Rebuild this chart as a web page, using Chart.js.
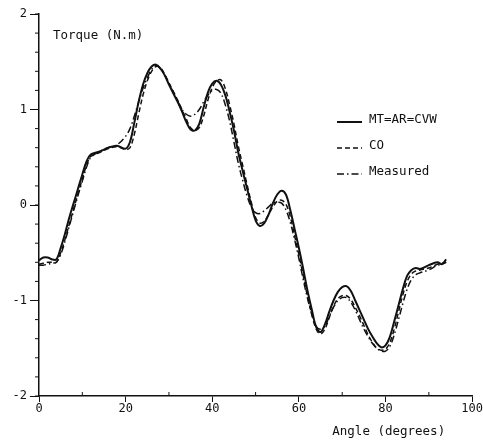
<!DOCTYPE html>
<html>
<head>
<meta charset="utf-8">
<script src="https://cdn.jsdelivr.net/npm/chart.js@4"></script>
<style>
    html, body { margin: 0; padding: 0; background: #fff; }
    canvas { display: block; }
</style>
</head>
<body>
<canvas id="torqueChart" width="483" height="441"></canvas>
<script>
const kutovi = [0, 1, 2, 3, 4, 5, 6, 7, 8, 9, 10, 11, 12, 14, 16, 18,
    20, 21, 22, 23, 24, 25, 26, 27, 28, 29, 30, 31, 32, 33, 34, 35, 36, 37, 38, 39,
    40, 41, 42, 43, 44, 45, 46, 47, 48, 49, 50, 51, 52, 53, 54, 55, 56, 57, 58, 59,
    60, 61, 62, 63, 64, 65, 66, 67, 68, 69, 70, 71, 72, 73, 74, 75, 76, 77, 78, 79,
    80, 81, 82, 83, 84, 85, 86, 87, 88, 90, 92, 93, 94];

const mtArCvw = [-0.58, -0.55, -0.55, -0.57, -0.57, -0.45, -0.30, -0.13, 0.02, 0.17, 0.32, 0.46, 0.53, 0.56, 0.60, 0.62,
    0.59, 0.66, 0.86, 1.08, 1.26, 1.38, 1.45, 1.47, 1.43, 1.36, 1.26, 1.17, 1.08, 0.98, 0.87, 0.79, 0.78, 0.85, 1.02, 1.18,
    1.27, 1.30, 1.26, 1.15, 0.98, 0.78, 0.55, 0.36, 0.18, 0.00, -0.16, -0.22, -0.19, -0.10, 0.02, 0.11, 0.15, 0.11, -0.05, -0.25,
    -0.45, -0.67, -0.90, -1.10, -1.28, -1.33, -1.25, -1.12, -1.00, -0.91, -0.86, -0.85, -0.90, -1.00, -1.10, -1.20, -1.30, -1.38, -1.45, -1.49,
    -1.47, -1.38, -1.22, -1.05, -0.88, -0.74, -0.68, -0.66, -0.67, -0.63, -0.60, -0.62, -0.57];

const co = [-0.62, -0.61, -0.60, -0.60, -0.60, -0.50, -0.36, -0.20, -0.04, 0.12, 0.27, 0.42, 0.51, 0.55, 0.59, 0.61,
    0.58, 0.60, 0.74, 0.95, 1.15, 1.30, 1.40, 1.45, 1.44, 1.37, 1.28, 1.19, 1.10, 1.00, 0.90, 0.81, 0.78, 0.81, 0.93, 1.10,
    1.23, 1.30, 1.31, 1.22, 1.05, 0.85, 0.62, 0.42, 0.22, 0.03, -0.13, -0.19, -0.17, -0.10, -0.02, 0.04, 0.05, 0.01, -0.12, -0.32,
    -0.52, -0.74, -0.96, -1.15, -1.30, -1.35, -1.30, -1.18, -1.06, -0.98, -0.95, -0.95, -0.99, -1.07, -1.16, -1.26, -1.36, -1.44, -1.50, -1.52,
    -1.51, -1.44, -1.30, -1.12, -0.94, -0.80, -0.72, -0.69, -0.68, -0.66, -0.62, -0.61, -0.60];

const mjereno = [-0.63, -0.63, -0.62, -0.61, -0.60, -0.52, -0.38, -0.22, -0.06, 0.10, 0.25, 0.40, 0.50, 0.56, 0.60, 0.63,
    0.72, 0.80, 0.93, 1.08, 1.22, 1.33, 1.42, 1.46, 1.43, 1.36, 1.27, 1.18, 1.09, 1.00, 0.95, 0.93, 0.95, 1.00, 1.08, 1.15,
    1.20, 1.21, 1.17, 1.05, 0.88, 0.66, 0.44, 0.26, 0.10, -0.02, -0.08, -0.09, -0.06, -0.02, 0.02, 0.03, 0.02, -0.05, -0.18, -0.36,
    -0.56, -0.78, -0.98, -1.15, -1.27, -1.30, -1.27, -1.17, -1.07, -1.00, -0.97, -0.97, -1.02, -1.10, -1.20, -1.30, -1.38, -1.45, -1.50, -1.53,
    -1.53, -1.48, -1.36, -1.20, -1.03, -0.88, -0.78, -0.73, -0.71, -0.68, -0.63, -0.62, -0.60];

const nazivi = ['MT=AR=CVW', 'CO', 'Measured'];
const xTickovi = [0, 20, 40, 60, 80, 100];
const yTickovi = [-2, -1, 0, 1, 2];

const font = '"DejaVu Sans Mono", "Liberation Mono", monospace';
const boja = '#111';

function tocke(vrijednosti) {
    return kutovi.map((k, i) => ({ x: k, y: vrijednosti[i] }));
}

// sitni tickovi, oznake osi i legenda
const crtez = {
    id: 'crtez',
    afterDraw(chart) {
        const ctx = chart.ctx;
        const xs = chart.scales.x;
        const ys = chart.scales.y;
        const a = chart.chartArea;
        ctx.save();
        ctx.strokeStyle = boja;
        ctx.lineWidth = 1;
        for (let v = -2; v <= 2.001; v += 0.2) {
            const py = ys.getPixelForValue(v);
            ctx.beginPath();
            ctx.moveTo(a.left - 4, py);
            ctx.lineTo(a.left, py);
            ctx.stroke();
        }
        for (let v = 10; v < 100; v += 20) {
            const px = xs.getPixelForValue(v);
            ctx.beginPath();
            ctx.moveTo(px, a.bottom - 4);
            ctx.lineTo(px, a.bottom);
            ctx.stroke();
        }

        ctx.fillStyle = boja;
        ctx.font = '12.5px ' + font;
        ctx.textBaseline = 'middle';
        ctx.textAlign = 'left';
        ctx.fillText('Torque (N.m)', a.left + 14, 36);
        ctx.textAlign = 'right';
        ctx.fillText('Angle (degrees)', a.right - 27, 432);

        ctx.textAlign = 'left';
        chart.data.datasets.forEach((ds, i) => {
            const y = 122 + i * 26;
            ctx.beginPath();
            ctx.setLineDash(ds.borderDash || []);
            ctx.lineWidth = ds.borderWidth;
            ctx.moveTo(337, y);
            ctx.lineTo(362, y);
            ctx.stroke();
            ctx.setLineDash([]);
            ctx.fillText(ds.label, 369, y - 2);
        });
        ctx.restore();
    }
};

const chart = new Chart(document.getElementById('torqueChart').getContext('2d'), {
    type: 'line',
    data: {
        datasets: [
            { label: nazivi[0], data: tocke(mtArCvw), borderColor: boja, borderWidth: 2 },
            { label: nazivi[1], data: tocke(co), borderColor: boja, borderWidth: 1.5, borderDash: [5, 3] },
            { label: nazivi[2], data: tocke(mjereno), borderColor: boja, borderWidth: 1.5, borderDash: [7, 3, 1.5, 3] }
        ]
    },
    options: {
        responsive: false,
        animation: false,
        layout: { padding: { top: 14, right: 9 } },
        elements: {
            point: { radius: 0 },
            line: { tension: 0.35, fill: false }
        },
        plugins: {
            legend: { display: false },
            tooltip: { enabled: false }
        },
        scales: {
            x: {
                type: 'linear',
                min: 0,
                max: 100,
                afterFit: s => { s.height = 45; },
                afterBuildTicks: s => { s.ticks = xTickovi.map(v => ({ value: v })); },
                grid: { drawOnChartArea: false, tickLength: 6, color: boja },
                border: { color: boja, width: 1.5 },
                ticks: { color: boja, padding: 0, maxRotation: 0, font: { family: font, size: 12 } }
            },
            y: {
                min: -2,
                max: 2,
                afterFit: s => { s.width = 39; },
                afterBuildTicks: s => { s.ticks = yTickovi.map(v => ({ value: v })); },
                grid: { drawOnChartArea: false, tickLength: 9, color: boja },
                border: { color: boja, width: 1.5 },
                ticks: { color: boja, padding: 3, font: { family: font, size: 12 } }
            }
        }
    },
    plugins: [crtez]
});
</script>
</body>
</html>
